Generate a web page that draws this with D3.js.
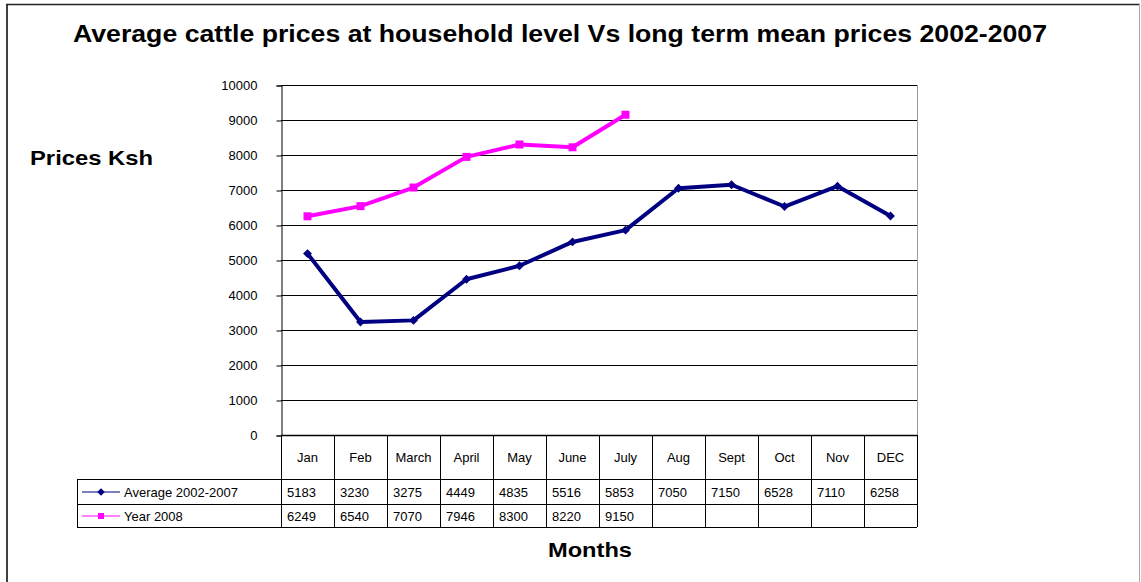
<!DOCTYPE html>
<html>
<head>
<meta charset="utf-8">
<script src="https://cdn.jsdelivr.net/npm/d3@7"></script>
<style>
  body { margin: 0; background: #fff; }
  text { font-family: Arial, "Liberation Sans", sans-serif; }
</style>
</head>
<body>
<div id="chart"></div>
<script>
// month labels shown in the data table
var months = ["Jan", "Feb", "March", "April", "May", "June", "July", "Aug", "Sept", "Oct", "Nov", "DEC"];
// long term mean 2002-2007
var avgPrices = [5183, 3230, 3275, 4449, 4835, 5516, 5853, 7050, 7150, 6528, 7110, 6258];
// year 2008 (Jan - July only)
var prices2008 = [6249, 6540, 7070, 7946, 8300, 8220, 9150];
var yTicks = [0, 1000, 2000, 3000, 4000, 5000, 6000, 7000, 8000, 9000, 10000];

var W = 1141, H = 582;
// plot area edges
var pLeft = 281, pRight = 917, pTop = 85, pBottom = 435;

var svg = d3.select("#chart").append("svg")
    .attr("width", W)
    .attr("height", H);

// outer frame
svg.append("line").attr("x1", 7).attr("x2", 7).attr("y1", 4).attr("y2", H)
    .attr("stroke", "#000").attr("stroke-width", 1.5);
svg.append("line").attr("x1", 6).attr("x2", 1140).attr("y1", 4.5).attr("y2", 4.5)
    .attr("stroke", "#222").attr("stroke-width", 1.5);
svg.append("line").attr("x1", 1139.5).attr("x2", 1139.5).attr("y1", 4).attr("y2", H)
    .attr("stroke", "#aaa").attr("stroke-width", 1);

var x = d3.scaleBand().domain(months).range([pLeft, pRight]);
var y = d3.scaleLinear().domain([0, 10000]).range([pBottom, pTop]);

// gridlines
svg.append("g").selectAll("line")
    .data(yTicks.slice(1))
    .join("line")
    .attr("x1", pLeft).attr("x2", pRight)
    .attr("y1", d => y(d) + 0.5).attr("y2", d => y(d) + 0.5)
    .attr("stroke", "#000").attr("stroke-width", 1);

// plot right border
svg.append("line").attr("x1", pRight + 0.5).attr("x2", pRight + 0.5)
    .attr("y1", pTop).attr("y2", pBottom)
    .attr("stroke", "#999");

// y axis
var yAxis = d3.axisLeft(y).tickValues(yTicks).tickSize(5).tickPadding(19).tickFormat(d3.format("d"));
var gy = svg.append("g").attr("transform", "translate(" + (pLeft + 0.5) + ",0.5)").call(yAxis);
gy.select(".domain").attr("stroke", "#000");
gy.selectAll("text").attr("font-size", 13).attr("fill", "#000")
    .style("font-family", "Arial, 'Liberation Sans', sans-serif");

// title and axis labels
svg.append("text")
    .attr("x", 73).attr("y", 42)
    .attr("font-size", 23).attr("font-weight", "bold")
    .attr("textLength", 974).attr("lengthAdjust", "spacingAndGlyphs")
    .text("Average cattle prices at household level Vs long term mean prices 2002-2007");
svg.append("text")
    .attr("x", 30).attr("y", 165)
    .attr("font-size", 21).attr("font-weight", "bold")
    .attr("textLength", 123).attr("lengthAdjust", "spacingAndGlyphs")
    .text("Prices Ksh");
svg.append("text")
    .attr("x", 548).attr("y", 557)
    .attr("font-size", 21).attr("font-weight", "bold")
    .attr("textLength", 84).attr("lengthAdjust", "spacingAndGlyphs")
    .text("Months");

// lines
var series = [
  { name: "Average 2002-2007", values: avgPrices, color: "#000080", shape: d3.symbolDiamond2, size: 50 },
  { name: "Year 2008", values: prices2008, color: "#FF00FF", shape: d3.symbolSquare, size: 64 }
];

var line = d3.line()
    .x((d, i) => x(months[i]) + x.bandwidth() / 2)
    .y(d => y(d));

series.forEach(function(s) {
  svg.append("path")
      .datum(s.values)
      .attr("d", line)
      .attr("fill", "none")
      .attr("stroke", s.color)
      .attr("stroke-width", 4)
      .attr("stroke-linejoin", "round");
  svg.append("g").selectAll("path")
      .data(s.values)
      .join("path")
      .attr("transform", (d, i) => "translate(" + (x(months[i]) + x.bandwidth() / 2) + "," + y(d) + ")")
      .attr("d", d3.symbol().type(s.shape).size(s.size))
      .attr("fill", s.color);
});

// data table
var rowY = [pBottom, 479, 504, 527];
var legLeft = 77;
var tbl = svg.append("g");

// horizontal lines
tbl.append("line").attr("x1", pLeft).attr("x2", pRight).attr("y1", pBottom + 0.5).attr("y2", pBottom + 0.5)
    .attr("stroke", "#000").attr("stroke-width", 1.5);
[rowY[1], rowY[2], rowY[3]].forEach(function(ry) {
  tbl.append("line").attr("x1", legLeft).attr("x2", pRight).attr("y1", ry + 0.5).attr("y2", ry + 0.5)
      .attr("stroke", "#000");
});
// vertical lines
tbl.append("line").attr("x1", legLeft + 0.5).attr("x2", legLeft + 0.5).attr("y1", rowY[1]).attr("y2", rowY[3])
    .attr("stroke", "#000");
tbl.selectAll("line.v")
    .data(months.concat(["end"]))
    .join("line")
    .attr("class", "v")
    .attr("x1", (d, i) => i < months.length ? x(d) + 0.5 : pRight + 0.5)
    .attr("x2", (d, i) => i < months.length ? x(d) + 0.5 : pRight + 0.5)
    .attr("y1", rowY[0]).attr("y2", rowY[3])
    .attr("stroke", "#000");

// header labels
tbl.selectAll("text.h")
    .data(months)
    .join("text")
    .attr("class", "h")
    .attr("x", d => x(d) + x.bandwidth() / 2)
    .attr("y", 462)
    .attr("text-anchor", "middle")
    .attr("font-size", 13)
    .text(d => d);

// values rows
series.forEach(function(s, r) {
  var cy = (rowY[r + 1] + rowY[r + 2]) / 2 + 5;
  tbl.append("g").selectAll("text")
      .data(s.values)
      .join("text")
      .attr("x", (d, i) => x(months[i]) + 6)
      .attr("y", cy)
      .attr("font-size", 13)
      .text(d => d);
  // legend key
  tbl.append("line").attr("x1", 82).attr("x2", 120).attr("y1", cy - 4.5).attr("y2", cy - 4.5)
      .attr("stroke", s.color).attr("stroke-width", 1);
  tbl.append("path")
      .attr("transform", "translate(101," + (cy - 4.5) + ")")
      .attr("d", d3.symbol().type(s.shape).size(36))
      .attr("fill", s.color);
  tbl.append("text")
      .attr("x", 124).attr("y", cy)
      .attr("font-size", 13)
      .text(s.name);
});
</script>
</body>
</html>
